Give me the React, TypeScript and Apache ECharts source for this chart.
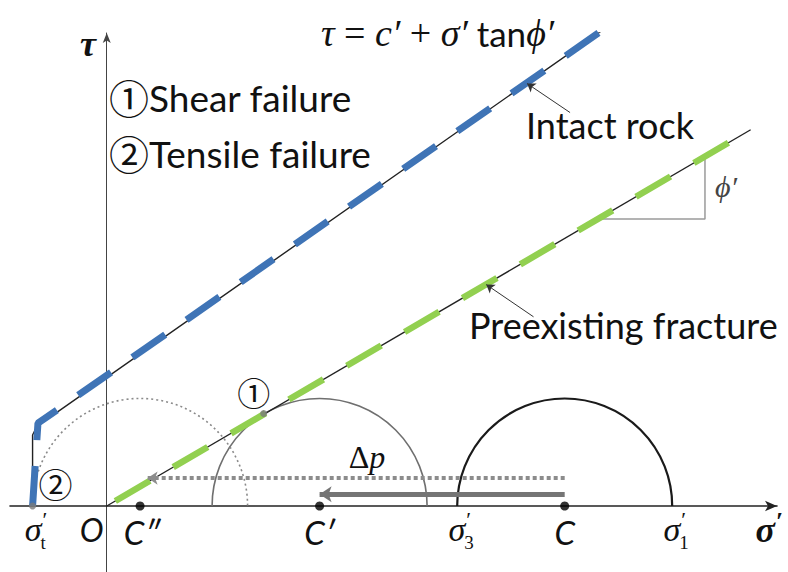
import React, { useEffect, useRef } from "react";
import * as echarts from "echarts";

const W = 788;
const H = 572;

// Mohr circles in (σ′, τ): initial state C, after Δp shift C′, further shift C″
const circleCenters = [42.6, 19.8, 3.1];
const circleRadius = 10;
const tensileStrength = -6.9; // σ′t

// Failure envelopes
const intactEnvelope = [[-6.9, 0], [-6.9, 6.6], [-6.5, 7.4], [47.6, 45.3]];
const intactDashed = [[-6.9, 0], [-6.4, 7.7], [47.6, 45.3]];
const fractureEnvelope = [[0, 0], [59.9, 35.0]];
const fractureDashed = [[0.8, 0.47], [59.9, 35.0]];

// Shear failure contact point (①)
const tangentPoint = [14.6, 8.6];
// Friction angle marker
const slopeTriangle = [[45.6, 26.7], [55.65, 26.7], [55.65, 32.55]];
// Pore pressure increase arrows
const shiftToShear = [[42.6, 1.1], [19.8, 1.1]];
const shiftToTensile = [[42.6, 2.6], [3.8, 2.6]];
// Callout leaders
const intactLeader = [[43.1, 36.6], [39.1, 39.3]];
const fractureLeader = [[39.7, 17.6], [35.3, 20.6]];

const serif = "'Liberation Serif', 'DejaVu Serif', serif";
const sans = "Lato, 'Noto Sans', sans-serif";
const circled = "'Noto Sans CJK JP', 'DejaVu Sans', sans-serif";
const ink = "#111";

type Opts = {
  family?: string;
  italic?: boolean;
  bold?: boolean;
  color?: string;
  align?: string;
  va?: string;
};

const txt = (text: string, x: number, y: number, size: number, o: Opts = {}) => ({
  type: "text",
  x,
  y,
  silent: true,
  style: {
    text,
    fontSize: size,
    fontFamily: o.family ?? sans,
    fontStyle: o.italic ? "italic" : "normal",
    fontWeight: o.bold ? "bold" : "normal",
    fill: o.color ?? ink,
    align: o.align ?? "center",
    verticalAlign: o.va ?? "middle",
  },
});

// σ′ with a subscript placed under the prime
const sigmaSub = (sub: string, x: number, y: number) => [
  txt("σ", x, y, 34, { family: serif, italic: true, align: "right" }),
  txt("′", x + 1, y - 10, 22, { family: serif, align: "left" }),
  txt(sub, x - 1, y + 13, 19, { family: serif, align: "left" }),
];

const App: React.FC = () => {
  const ref = useRef<HTMLDivElement>(null);

  useEffect(() => {
    document.body.style.margin = "0";
    const chart = echarts.init(ref.current!, undefined, { renderer: "svg" });

    const circleStyles = [
      { stroke: "#1a1a1a", lineWidth: 2.2, lineDash: null as number[] | null },
      { stroke: "#6f6f6f", lineWidth: 1.6, lineDash: null },
      { stroke: "#8a8a8a", lineWidth: 1.6, lineDash: [2, 3] },
    ];

    const line = (data: number[][], color: string, width: number, dash?: number[], z = 2) => ({
      type: "line",
      data,
      showSymbol: false,
      silent: true,
      z,
      lineStyle: { color, width, type: dash ?? "solid", cap: "butt" },
    });

    const arrow = (coords: number[][], color: string, width: number, size: number | number[], dash?: number[]) => ({
      type: "lines",
      coordinateSystem: "cartesian2d",
      silent: true,
      symbol: ["none", "arrow"],
      symbolSize: size,
      z: 4,
      lineStyle: { color, width, type: dash ?? "solid", opacity: 1 },
      data: [{ coords }],
    });

    chart.setOption({
      animation: false,
      grid: { left: 10, right: 11, top: 33, bottom: 0, containLabel: false },
      xAxis: {
        type: "value",
        min: -9,
        max: 62.35,
        axisLine: {
          show: true,
          onZero: true,
          symbol: ["none", "arrow"],
          symbolSize: [8, 12],
          lineStyle: { color: "#222", width: 1.6 },
        },
        axisTick: { show: false },
        axisLabel: { show: false },
        splitLine: { show: false },
      },
      yAxis: {
        type: "value",
        min: -6.14,
        max: 44.0,
        axisLine: {
          show: true,
          onZero: true,
          symbol: ["none", "arrow"],
          symbolSize: [6, 10],
          lineStyle: { color: "#444", width: 1 },
        },
        axisTick: { show: false },
        axisLabel: { show: false },
        splitLine: { show: false },
      },
      series: [
        ...circleCenters.map((c, i) => ({
          type: "custom",
          silent: true,
          z: 1,
          data: [[c, circleRadius]],
          renderItem: (_p: any, api: any) => {
            const ctr = api.coord([api.value(0), 0]);
            const edge = api.coord([api.value(0) + api.value(1), 0]);
            const cs = circleStyles[i];
            return {
              type: "arc",
              shape: { cx: ctr[0], cy: ctr[1], r: edge[0] - ctr[0], startAngle: Math.PI, endAngle: 2 * Math.PI, clockwise: true },
              style: { stroke: cs.stroke, lineWidth: cs.lineWidth, fill: "none", lineDash: cs.lineDash },
            };
          },
        })),
        line(slopeTriangle, "#9a9a9a", 1.5),
        line(intactEnvelope, "#222", 1.4),
        line(fractureEnvelope, "#222", 1.4),
        line(intactDashed, "#3f74b6", 7, [40, 26], 3),
        line(fractureDashed, "#92d050", 6.5, [40, 27], 3),
        arrow(shiftToTensile, "#8c8c8c", 4, [9, 10], [4, 3]),
        arrow(shiftToShear, "#757575", 5, [11, 12]),
        arrow(intactLeader, "#333", 1, [6, 8]),
        arrow(fractureLeader, "#333", 1, [6, 8]),
        {
          type: "scatter",
          silent: true,
          z: 5,
          symbolSize: 9,
          itemStyle: { color: "#000" },
          data: circleCenters.map((c) => [c, 0]),
        },
        {
          type: "scatter",
          silent: true,
          z: 5,
          symbolSize: 7,
          itemStyle: { color: "#7a7a7a" },
          data: [tangentPoint, [tensileStrength, 0]],
        },
      ],
    });

    const px = (p: number[]) => chart.convertToPixel({ gridIndex: 0 }, p) as number[];
    const [cC, cC1, cC2] = circleCenters.map((c) => px([c, 0])[0]);
    const s3 = px([circleCenters[0] - circleRadius, 0])[0];
    const s1 = px([circleCenters[0] + circleRadius, 0])[0];
    const sT = px([tensileStrength, 0])[0];
    const o = px([0, 0]);
    const tp = px(tangentPoint);
    const yb = o[1] + 24;

    const keyRich = {
      c: { fontFamily: circled, fontSize: 40, fill: ink, lineHeight: 40 },
      t: { fontFamily: sans, fontSize: 37, fill: ink, lineHeight: 40 },
    };

    chart.setOption({
      graphic: [
        // axis titles
        txt("τ", 88, 44, 36, { family: serif, italic: true, bold: true }),
        txt("σ", 775, yb, 36, { family: serif, italic: true, bold: true, align: "right" }),
        txt("′", 776, yb - 8, 26, { family: serif, bold: true, align: "left" }),
        // Mohr-Coulomb criterion
        {
          type: "text",
          x: 321,
          y: 33,
          silent: true,
          style: {
            text: "{i|τ}{n| = }{i|c′}{n| + }{i|σ′}{t| tan}{i|ϕ′}",
            verticalAlign: "middle",
            fill: ink,
            rich: {
              i: { fontFamily: serif, fontStyle: "italic", fontSize: 38, fill: ink },
              n: { fontFamily: serif, fontSize: 38, fill: ink },
              t: { fontFamily: sans, fontSize: 35, fill: ink },
            },
          },
        },
        // failure mode key
        {
          type: "text",
          x: 109,
          y: 97,
          silent: true,
          style: { text: "{c|①}{t|Shear failure}", verticalAlign: "middle", rich: keyRich },
        },
        {
          type: "text",
          x: 109,
          y: 153,
          silent: true,
          style: { text: "{c|②}{t|Tensile failure}", verticalAlign: "middle", rich: keyRich },
        },
        // envelope callouts
        txt("Intact rock", 526, 125, 36, { align: "left" }),
        txt("Preexisting fracture", 469, 325, 36, { align: "left" }),
        txt("ϕ′", 726, 186, 30, { family: serif, italic: true, color: "#444" }),
        // failure points
        txt("①", tp[0] - 10, tp[1] - 22, 33, { family: circled }),
        txt("②", sT + 23, o[1] - 22, 34, { family: circled }),
        // Δp
        {
          type: "text",
          x: 367,
          y: 457,
          silent: true,
          style: {
            text: "{n|Δ}{i|p}",
            align: "center",
            verticalAlign: "middle",
            rich: {
              n: { fontFamily: serif, fontSize: 32, fill: ink },
              i: { fontFamily: serif, fontStyle: "italic", fontSize: 32, fill: ink },
            },
          },
        },
        // σ′ axis marks
        txt("O", o[0] - 15, yb, 32, { italic: true }),
        txt("C″", cC2 + 2, yb + 2, 33, { italic: true }),
        txt("C′", cC1, yb + 2, 33, { italic: true }),
        txt("C", cC, yb + 2, 33, { italic: true }),
        ...sigmaSub("3", s3 + 8, yb),
        ...sigmaSub("1", s1 + 8, yb),
        ...sigmaSub("t", sT + 9, yb),
      ],
    });

    return () => chart.dispose();
  }, []);

  return <div ref={ref} style={{ width: W, height: H }} />;
};

export default App;
